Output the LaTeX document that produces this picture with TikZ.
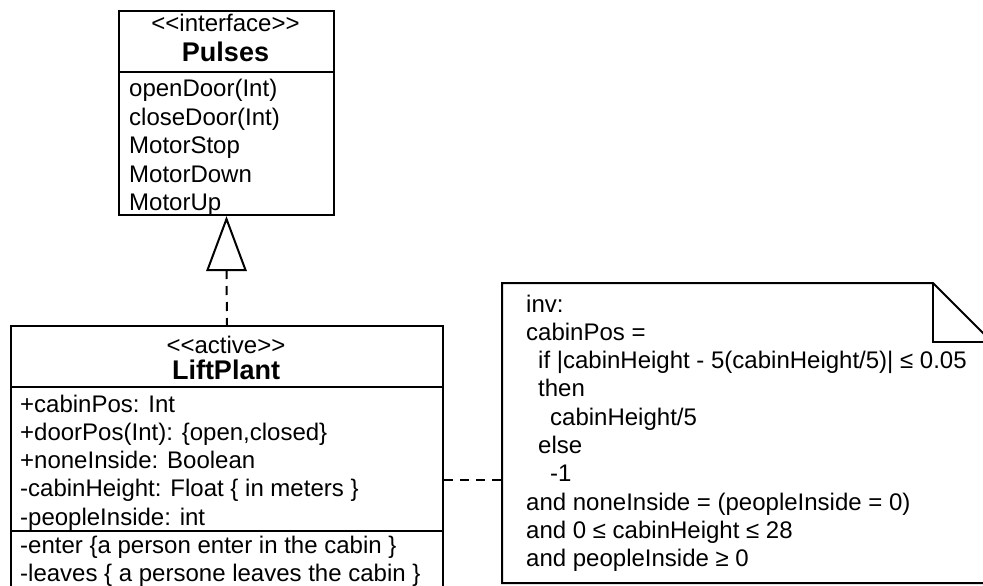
\documentclass[tikz,border=0pt]{standalone}
\usepackage{fontspec}
\setmainfont{Liberation Sans}
\begin{document}
\begin{tikzpicture}[x=1pt, y=-1pt,
  umlbox/.style={draw, line width=2pt, inner sep=0pt, anchor=north west},
  txt/.style={anchor=base west, inner sep=0pt, font=\fontsize{24}{28}\selectfont},
  stereo/.style={anchor=base, inner sep=0pt, font=\fontsize{24}{28}\selectfont},
  ttl/.style={anchor=base, inner sep=0pt, font=\fontsize{27}{32}\selectfont\bfseries},
  sep/.style={draw, line width=2pt},
  link/.style={draw, line width=2pt, dash pattern=on 9pt off 7pt}]
\useasboundingbox (0,0) rectangle (983,586);
\clip (0,0) rectangle (983,586);

% interface Pulses
\node[umlbox, minimum width=215pt, minimum height=204pt] (pulses) at (118,10) {};
\draw[sep] (pulses.west |- 0,72) -- (pulses.east |- 0,72);
\node[stereo] (pst) at (225.5,32) {<{}<interface>{}>};
\node[ttl] (ptl) at (225.5,62) {Pulses};
\foreach \t [count=\i] in {openDoor(Int), closeDoor(Int), MotorStop, MotorDown, MotorUp}
  \node[txt] (pop\i) at (129, 96.5+28.5*\i-28.5) {\t};

% active class LiftPlant
\node[umlbox, minimum width=432pt, minimum height=300pt] (lift) at (10,325) {};
\draw[sep] (lift.west |- 0,387) -- (lift.east |- 0,387);
\draw[sep] (lift.west |- 0,531) -- (lift.east |- 0,531);
\node[stereo] (lst) at (226,353) {<{}<active>{}>};
\node[ttl] (ltl) at (226,379) {LiftPlant};
\foreach \t [count=\i] in {+cabinPos: Int, {+doorPos(Int): \{open,closed\}}, +noneInside: Boolean,
    -cabinHeight: Float \{ in meters \}, -peopleInside: int}
  \node[txt] (lat\i) at (20, 412+28.3*\i-28.3) {\t};
\node[txt] (lop1) at (20,553) {-enter \{a person enter in the cabin \}};
\node[txt] (lop2) at (20,581) {-leaves \{ a persone leaves the cabin \}};

% realization: dashed line with hollow triangle
\coordinate (apex) at ([yshift=-3pt]pulses.south);
\coordinate (tbl) at ([shift={(-19pt,-51pt)}]apex);
\coordinate (tbr) at ([shift={(19pt,-51pt)}]apex);
\coordinate (tbm) at ([yshift=-51pt]apex);
\draw[line width=2pt, line join=miter, fill=white] (apex) -- (tbl) -- (tbr) -- cycle;
\draw[link] (tbm) -- (lift.north);

% constraint note
\node[minimum width=490pt, minimum height=300pt, inner sep=0pt, anchor=north west] (note) at (502,283) {};
\coordinate (fold) at ([xshift=431pt]note.north west);
\draw[line width=2pt, line join=miter]
  (note.north west) -- (fold) -- ([shift={(59pt,-59pt)}]fold) -- (note.south east |- 0,583) -- (note.west |- 0,583) -- cycle;
\draw[line width=2pt] (fold) -- ([yshift=-59pt]fold) -- ([shift={(59pt,-59pt)}]fold);
\node[txt] (n1) at (526,312) {inv:};
\node[txt] (n2) at (526,340.3) {cabinPos =};
\node[txt] (n3) at (538,368.6) {if |cabinHeight - 5(cabinHeight/5)| ≤ 0.05};
\node[txt] (n4) at (538,396.9) {then};
\node[txt] (n5) at (550,425.2) {cabinHeight/5};
\node[txt] (n6) at (538,453.5) {else};
\node[txt] (n7) at (550,481.8) {-1};
\node[txt] (n8) at (526,510.1) {and noneInside = (peopleInside = 0)};
\node[txt] (n9) at (526,538.4) {and 0 ≤ cabinHeight ≤ 28};
\node[txt] (n10) at (526,566.7) {and peopleInside ≥ 0};

% note anchor
\draw[link] (lift.east |- 0,480) -- (note.west |- 0,480);
\end{tikzpicture}
\end{document}
